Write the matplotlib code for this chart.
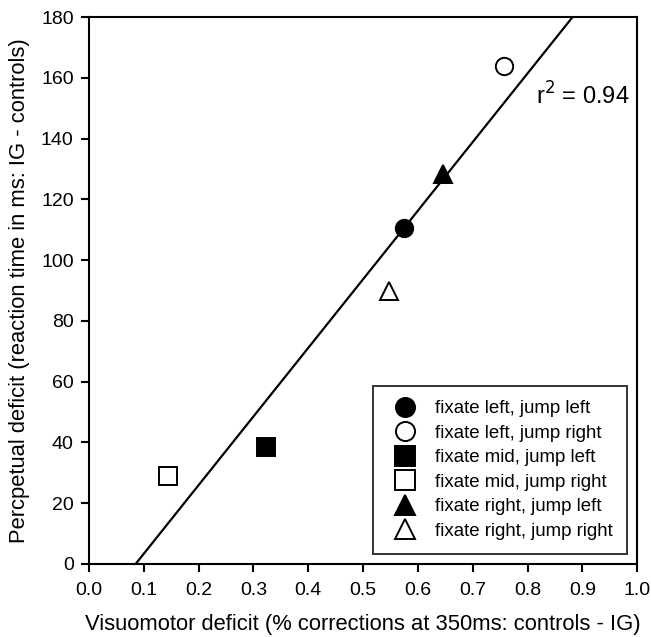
import numpy as np
import matplotlib.pyplot as plt

plt.rcParams['font.family'] = ['Liberation Sans', 'DejaVu Sans']

# data
labels = ['fixate left, jump left', 'fixate left, jump right',
          'fixate mid, jump left', 'fixate mid, jump right',
          'fixate right, jump left', 'fixate right, jump right']
vis_x = [0.575, 0.757, 0.323, 0.145, 0.645, 0.548]
perc_y = [110.5, 164, 38.5, 29, 128.5, 90]
markers = ['o', 'o', 's', 's', '^', '^']
filled = [True, False, True, False, True, False]

# regression line end points
line_x = [0.085, 0.882]
line_y = [0, 180]

fig = plt.figure(figsize=(6.51, 6.37), dpi=100)
ax = fig.add_axes([0.1367, 0.1146, 0.842, 0.8584])

ax.plot(line_x, line_y, 'k-', lw=1.6, zorder=2)
for xv, yv, m, f, lab in zip(vis_x, perc_y, markers, filled, labels):
    ax.plot(xv, yv, linestyle='none', marker=m, ms=12.5,
            mfc='k' if f else 'white', mec='k', mew=1.4, label=lab, zorder=3)

ax.text(0.815, 154, r'r$^2$ = 0.94', fontsize=17, va='center', ha='left')

ax.set_xlim(0, 1.0)
ax.set_ylim(0, 180)
ax.set_xticks(np.arange(0, 1.01, 0.1))
ax.set_xticklabels(['%.1f' % v for v in np.arange(0, 1.01, 0.1)])
ax.set_yticks(np.arange(0, 181, 20))
ax.tick_params(direction='out', length=6, width=1.5, labelsize=14)
ax.tick_params(axis='x', pad=7)
ax.tick_params(axis='y', pad=5)
for s in ax.spines.values():
    s.set_linewidth(1.5)

ax.set_xlabel('Visuomotor deficit (% corrections at 350ms: controls - IG)',
              fontsize=15.8, labelpad=11)
ax.set_ylabel('Percpetual deficit (reaction time in ms: IG - controls)',
              fontsize=15.8, labelpad=8)

leg = ax.legend(loc='lower right', fontsize=13.4, frameon=True, fancybox=False,
                edgecolor='k', borderpad=0.75, labelspacing=0.4,
                handletextpad=0.65, borderaxespad=0.55, markerscale=1.1,
                handlelength=1.94)
leg.get_frame().set_linewidth(1.4)

fig.savefig('out.png', dpi=100)
